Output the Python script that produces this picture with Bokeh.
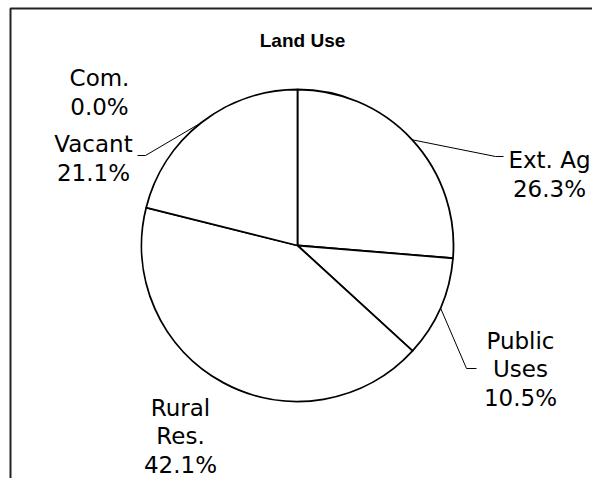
import numpy as np
from bokeh.plotting import figure
from bokeh.models import ColumnDataSource, Range1d
from bokeh.core.properties import value
from bokeh.embed import file_html
from bokeh.resources import INLINE

# ---- data ----
categories = ["Ext. Ag", "Public Uses", "Rural Res.", "Vacant", "Com."]
display_names = ["Ext. Ag", "Public\nUses", "Rural\nRes.", "Vacant", "Com."]
percent = [26.3, 10.5, 42.1, 21.1, 0.0]
title_text = "Land Use"

# ---- layout (reference pixel helpers) ----
W, H = 592, 478
def X(px):
    return px
def Y(py):
    return H - py

cx, cy, R = X(297), Y(245), 156

# label block centres (px)
label_pos = {
    "Ext. Ag": (549, 174),
    "Public Uses": (520, 369),
    "Rural Res.": (180, 436),
    "Vacant": (93, 158),
    "Com.": (99, 92),
}
# leader elbows (px): (elbow point, end point) or None
leader_pos = {
    "Ext. Ag": ((495, 156), (503, 156)),
    "Public Uses": ((466, 368), (476, 368)),
    "Rural Res.": None,
    "Vacant": ((145, 155), (137, 155)),
    "Com.": None,
}

p = figure(width=W, height=H, output_backend="svg", toolbar_location=None,
           x_axis_type=None, y_axis_type=None, title=None,
           x_range=Range1d(0, W), y_range=Range1d(0, H),
           min_border=0, min_border_left=0, min_border_right=0,
           min_border_top=0, min_border_bottom=0)
p.grid.visible = False
p.outline_line_color = None
p.background_fill_color = "white"
p.border_fill_color = "white"

# wedges
total = sum(percent)
frac = np.array(percent) / total
cum = np.concatenate([[0.0], np.cumsum(frac)])
start = np.pi / 2 - 2 * np.pi * cum[:-1]
end = np.pi / 2 - 2 * np.pi * cum[1:]
mask = frac > 0
src = ColumnDataSource(dict(start=start[mask], end=end[mask],
                            cat=[c for c, m in zip(categories, mask) if m]))
p.wedge(x=cx, y=cy, radius=R, start_angle="start", end_angle="end",
        direction="clock", fill_color="white", line_color="black",
        line_width=1.8, source=src)

# leader lines
mid = np.pi / 2 - 2 * np.pi * (cum[:-1] + frac / 2)
for i, c in enumerate(categories):
    lp = leader_pos[c]
    if lp is None:
        continue
    ax, ay = cx + R * np.cos(mid[i]), cy + R * np.sin(mid[i])
    (ex, ey), (tx, ty) = lp
    p.line([ax, X(ex), X(tx)], [ay, Y(ey), Y(ty)], line_color="black", line_width=1)

# labels
lbl = [f"{n}\n{v:.1f}%" for n, v in zip(display_names, percent)]
lsrc = ColumnDataSource(dict(x=[X(label_pos[c][0]) for c in categories],
                             y=[Y(label_pos[c][1]) for c in categories],
                             t=lbl))
p.text(x="x", y="y", text="t", source=lsrc, text_align="center",
       text_baseline="middle", text_font=value("DejaVu Sans"),
       text_font_size="23px", text_color="black", text_line_height=1.1)

# title
p.text(x=[X(302)], y=[Y(40)], text=[title_text], text_align="center",
       text_baseline="middle", text_font=value("Liberation Sans"),
       text_font_size="19px", text_font_style="bold", text_color="black")

# chart border (top and left edges visible in the window)
p.line([X(10), X(10), W], [0, Y(8), Y(8)], line_color="#222222", line_width=2)

open("out.html", "w").write(file_html(p, INLINE))
